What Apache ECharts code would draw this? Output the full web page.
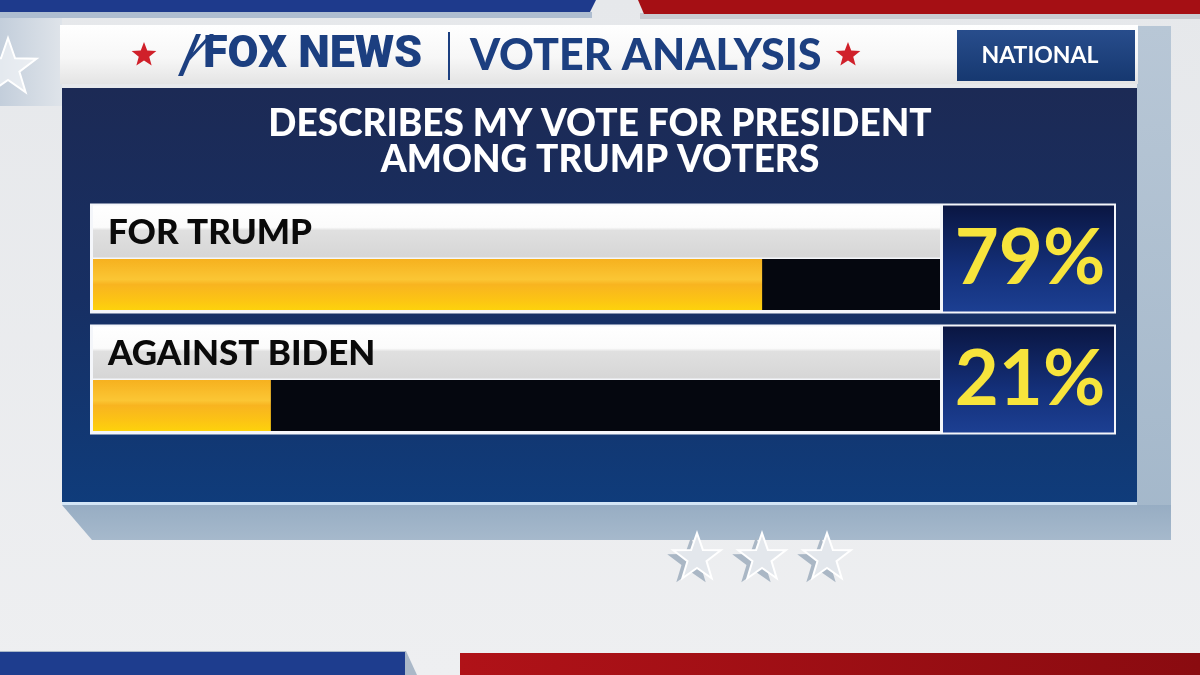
<!DOCTYPE html>
<html>
<head>
<meta charset="utf-8">
<script src="https://cdn.jsdelivr.net/npm/echarts@6/dist/echarts.min.js"></script>
<style>html,body{margin:0;padding:0;background:#e8e9ec;}#c{width:1200px;height:675px;}</style>
</head>
<body>
<div id="c"></div>
<script>
// ---- data ----
const categories = ['FOR TRUMP', 'AGAINST BIDEN'];
const values = [79, 21];
const valueLabels = ['79%', '21%'];
const axisMax = 100;
const headerLeft = 'FOX NEWS';
const headerRight = 'VOTER ANALYSIS';
const regionLabel = 'NATIONAL';
const titleLines = ['DESCRIBES MY VOTE FOR PRESIDENT', 'AMONG TRUMP VOTERS'];

const FONT = 'Lato, "Open Sans", sans-serif';
const lg = (stops, x2 = 0, y2 = 1) => new echarts.graphic.LinearGradient(0, 0, x2, y2, stops.map((c, i) => ({offset: c[0], color: c[1]})));

function starPoints(cx, cy, R, r) {
  const pts = [];
  for (let i = 0; i < 10; i++) {
    const a = -Math.PI / 2 + i * Math.PI / 5;
    const rad = i % 2 === 0 ? R : r;
    pts.push([cx + rad * Math.cos(a), cy + rad * Math.sin(a)]);
  }
  return pts;
}

const chart = echarts.init(document.getElementById('c'), null, {renderer: 'canvas'});

const graphics = [
  // background
  {type: 'rect', shape: {x: 0, y: 0, width: 1200, height: 675}, style: {fill: lg([[0, '#e6e8eb'], [1, '#eeeff1']])}, z: -10},
  // top-left bluish side
  {type: 'rect', shape: {x: 0, y: 16, width: 62, height: 90}, style: {fill: lg([[0, '#c3cedb'], [1, '#dfe4ea']], 1, 0)}, z: -9},
  {type: 'polygon', shape: {points: starPoints(8, 68, 30, 12)}, style: {fill: 'rgba(255,255,255,0.55)', stroke: '#ffffff', lineWidth: 2}, z: -8},
  // top stripes
  {type: 'rect', shape: {x: 0, y: 12, width: 592, height: 6}, style: {fill: '#aebdd0'}, z: -8},
  {type: 'polygon', shape: {points: [[0, 0], [596, 0], [590, 12], [0, 12]]}, style: {fill: '#1e3a8c'}, z: -7},
  {type: 'rect', shape: {x: 640, y: 13, width: 560, height: 6}, style: {fill: '#c9ccd2'}, z: -8},
  {type: 'polygon', shape: {points: [[638, 0], [1200, 0], [1200, 14], [644, 14]]}, style: {fill: '#a50f14'}, z: -7},
  // right 3D side
  {type: 'rect', shape: {x: 1137, y: 26, width: 34, height: 514}, style: {fill: lg([[0, '#b8c7d6'], [1, '#a3b7ca']])}, z: -6},
  // bottom shadow
  {type: 'polygon', shape: {points: [[62, 505], [1171, 505], [1171, 540], [92, 540]]}, style: {fill: lg([[0, '#97adc3'], [1, '#a6b9cc']])}, z: -6},
  // header
  {type: 'rect', shape: {x: 60, y: 25, width: 1078, height: 59}, style: {fill: lg([[0, '#ffffff'], [0.55, '#f7f7f7'], [1, '#e4e4e4']])}, z: -5},
  // panel
  {type: 'rect', shape: {x: 62, y: 88, width: 1075, height: 417}, style: {fill: lg([[0, '#1c2a55'], [0.5, '#172f63'], [1, '#0f3c7b']])}, z: -5},
  {type: 'rect', shape: {x: 62, y: 502, width: 1075, height: 3}, style: {fill: '#d4e6f6'}, z: -4},
  // national box
  {type: 'rect', shape: {x: 957, y: 30, width: 178, height: 51}, style: {fill: lg([[0, '#284d8c'], [1, '#163870']])}, z: -4},
  {type: 'text', style: {x: 1040, y: 56, text: regionLabel, fill: '#ffffff', font: 'bold 23px ' + FONT, align: 'center', verticalAlign: 'middle'}, z: -3},
  // red stars
  {type: 'polygon', shape: {points: starPoints(144, 55, 13, 5.5)}, style: {fill: '#d0202a'}, z: -3},
  {type: 'polygon', shape: {points: starPoints(848, 55, 13, 5.5)}, style: {fill: '#d0202a'}, z: -3},
  // fox logo strokes
  {type: 'polygon', shape: {points: [[178, 76], [196, 34], [201, 34], [183, 76]]}, style: {fill: '#1c3f80'}, z: -3},
  {type: 'polygon', shape: {points: [[186, 60], [210, 34], [214, 34], [190, 60]]}, style: {fill: '#1c3f80'}, z: -3},
  {type: 'text', style: {x: 203, y: 56, text: headerLeft, fill: '#1c3f80', font: '900 45px Roboto, sans-serif', align: 'left', verticalAlign: 'middle'}, z: -3},
  {type: 'rect', shape: {x: 448, y: 32, width: 2, height: 48}, style: {fill: '#1c3f80'}, z: -3},
  {type: 'text', style: {x: 470, y: 56, text: headerRight, fill: '#1c3f80', font: '900 43px ' + FONT, align: 'left', verticalAlign: 'middle'}, z: -3},
  // bottom stars
  ...[697, 762, 827].flatMap(cx => [
    {type: 'polygon', shape: {points: starPoints(cx - 6, 562, 25, 10)}, style: {fill: '#aab7c5'}, z: -4},
    {type: 'polygon', shape: {points: starPoints(cx, 558, 25, 10)}, style: {fill: '#e3e7ec', stroke: '#ffffff', lineWidth: 2}, z: -3}
  ]),
  // bottom stripes
  {type: 'polygon', shape: {points: [[0, 651], [406, 651], [417, 675], [0, 675]]}, style: {fill: '#aab8c8'}, z: -4},
  {type: 'polygon', shape: {points: [[0, 652], [405, 652], [405, 675], [0, 675]]}, style: {fill: '#1e3d8e'}, z: -3},
  {type: 'polygon', shape: {points: [[460, 653], [1200, 653], [1200, 675], [460, 675]]}, style: {fill: lg([[0, '#b01218'], [1, '#8a0b10']], 1, 0)}, z: -3}
];

const frameData = categories.map((c, i) => [axisMax, i]);

chart.setOption({
  animation: false,
  backgroundColor: 'transparent',
  title: {
    text: titleLines.join('\n'),
    left: 'center',
    top: 101,
    textStyle: {color: '#ffffff', fontSize: 37, fontWeight: 900, fontFamily: FONT, lineHeight: 36}
  },
  graphic: {elements: graphics},
  grid: {left: 93, right: 260, top: 224, bottom: 209, containLabel: false},
  xAxis: {type: 'value', min: 0, max: axisMax, show: false},
  yAxis: {type: 'category', data: categories, inverse: true, show: false},
  series: [
    {
      type: 'custom',
      z: 1,
      data: frameData,
      renderItem: function (params, api) {
        const idx = api.value(1);
        const s = api.coord([0, idx]);
        const e = api.coord([axisMax, idx]);
        const cy = s[1];
        const w = e[0] - s[0];
        return {
          type: 'group',
          children: [
            {type: 'rect', shape: {x: s[0] - 3, y: cy - 81, width: w + 3 + 176, height: 110}, style: {fill: '#f4f6fa'}},
            {type: 'rect', shape: {x: s[0], y: cy - 79, width: w, height: 52}, style: {fill: lg([[0, '#ffffff'], [0.42, '#fbfbfb'], [0.48, '#e0e0e0'], [1, '#d6d6d6']])}},
            {type: 'rect', shape: {x: e[0] + 3, y: cy - 79, width: 171, height: 106}, style: {fill: lg([[0, '#0a1642'], [0.6, '#14307a'], [1, '#1c3f92']])}},
            {type: 'text', style: {x: s[0] + 15, y: cy - 52, text: categories[idx], fill: '#0a0a0a', font: '900 35px ' + FONT, align: 'left', verticalAlign: 'middle'}},
            {type: 'text', style: {x: e[0] + 90, y: cy - 25, text: valueLabels[idx], fill: '#f7e43c', font: 'bold 76px ' + FONT, align: 'center', verticalAlign: 'middle'}}
          ]
        };
      }
    },
    {
      type: 'bar',
      z: 2,
      data: values,
      barWidth: 51,
      showBackground: true,
      backgroundStyle: {color: '#05070f'},
      itemStyle: {color: lg([[0, '#f6b11f'], [0.4, '#fbc634'], [0.5, '#f8b420'], [0.8, '#fcc414'], [1, '#fdd20c']])}
    }
  ]
});
</script>
</body>
</html>
